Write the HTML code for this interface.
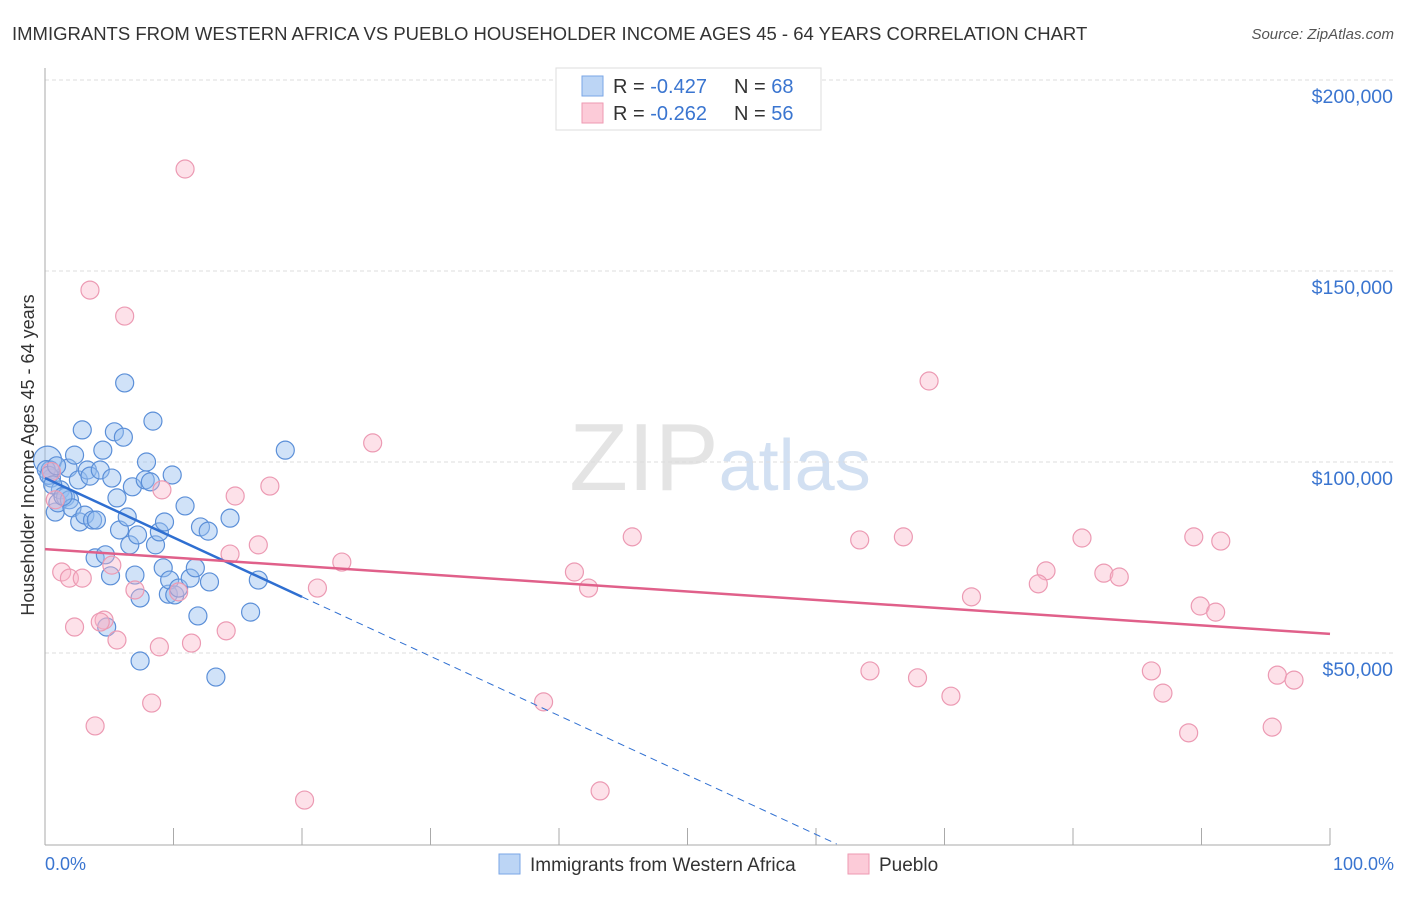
<!DOCTYPE html>
<html><head><meta charset="utf-8"><style>
body{margin:0;background:#fff;font-family:"Liberation Sans",sans-serif;}
svg text{font-family:"Liberation Sans",sans-serif;}
</style></head><body>
<svg id="chart" width="1406" height="892" xmlns="http://www.w3.org/2000/svg">
<text x="12" y="40" font-size="18.5" fill="#333">IMMIGRANTS FROM WESTERN AFRICA VS PUEBLO HOUSEHOLDER INCOME AGES 45 - 64 YEARS CORRELATION CHART</text>
<text x="1394" y="39" font-size="15" fill="#555" text-anchor="end" font-style="italic">Source: ZipAtlas.com</text>
<text x="720" y="490" font-size="96" fill="#e4e4e4" text-anchor="middle" font-family="Liberation Serif">ZIP<tspan fill="#d2e0f2" font-family="Liberation Sans" font-size="72">atlas</tspan></text>
<g id="grid"></g>
<g id="axes"></g>
<g id="points"></g>
<g id="lines"></g>
<text transform="translate(34,455) rotate(-90)" font-size="18" fill="#333" text-anchor="middle">Householder Income Ages 45 - 64 years</text>
<text x="45" y="870" font-size="18" fill="#3a75d0">0.0%</text>
<text x="1394" y="870" font-size="18" fill="#3a75d0" text-anchor="end">100.0%</text>
<g>
<rect x="556" y="68" width="265" height="62" fill="#fff" stroke="#ddd"/>
<rect x="582" y="76" width="21" height="20" fill="#bcd5f5" stroke="#7aa6e6"/>
<rect x="582" y="103" width="21" height="20" fill="#fccbd8" stroke="#ee9ab2"/>
<text x="613" y="93" font-size="20" fill="#333">R = <tspan fill="#3a75d0">-0.427</tspan></text>
<text x="734" y="93" font-size="20" fill="#333">N = <tspan fill="#3a75d0">68</tspan></text>
<text x="613" y="120" font-size="20" fill="#333">R = <tspan fill="#3a75d0">-0.262</tspan></text>
<text x="734" y="120" font-size="20" fill="#333">N = <tspan fill="#3a75d0">56</tspan></text>
</g>
<g>
<rect x="499" y="854" width="21" height="20" fill="#bcd5f5" stroke="#7aa6e6"/>
<text x="530" y="871" font-size="19" fill="#333">Immigrants from Western Africa</text>
<rect x="848" y="854" width="21" height="20" fill="#fccbd8" stroke="#ee9ab2"/>
<text x="879" y="871" font-size="19" fill="#333">Pueblo</text>
</g>
</svg>
<script>
const yTicks=[50000,100000,150000,200000];
const yTickLabels=["$50,000","$100,000","$150,000","$200,000"];
const blueX=[0.2,0.4,0.5,0.8,1.0,1.2,1.6,1.8,1.9,2.1,2.3,2.6,2.7,2.9,3.1,3.3,3.5,3.7,3.9,4.0,4.3,4.5,4.7,4.8,5.1,5.2,5.4,5.6,5.8,6.1,6.2,6.4,6.6,6.8,7.0,7.2,7.4,7.4,7.8,7.9,8.2,8.4,8.6,8.9,9.2,9.3,9.6,9.7,9.9,10.1,10.4,10.9,11.3,11.7,12.1,11.9,12.7,12.8,13.3,14.4,16.0,16.6,18.7,0.1,0.3,0.6,0.9,1.4];
const blueY=[100.5,97.9,95.8,86.9,89.3,92.7,90.8,98.4,90.1,88.0,101.8,95.3,84.3,108.4,86.1,97.9,96.3,84.8,74.9,84.8,97.9,103.1,75.7,56.8,70.2,95.8,107.9,90.6,82.2,106.5,120.7,85.6,78.3,93.5,70.4,80.9,64.4,47.9,95.3,100.0,94.8,110.7,78.3,81.7,72.3,84.3,65.4,69.1,96.6,65.2,67.0,88.5,69.6,72.3,83.0,59.7,81.9,68.6,43.7,85.3,60.7,69.1,103.1,98.0,96.5,94.0,99.0,91.0];
const pinkX=[10.9,3.5,6.2,68.8,25.5,17.5,14.8,9.1,16.6,14.4,23.1,45.7,63.4,66.8,80.7,89.4,91.5,41.2,42.3,21.2,77.9,82.4,83.6,77.3,72.1,89.9,91.1,1.3,1.9,2.9,5.2,4.6,4.3,2.3,5.6,14.1,8.9,11.4,7.0,10.4,64.2,67.9,70.5,86.1,87.0,95.9,97.2,89.0,95.5,8.3,38.8,3.9,43.2,20.2,0.8,0.5];
const pinkY=[176.7,145.0,138.2,121.2,105.0,93.7,91.1,92.7,78.3,75.9,73.8,80.4,79.6,80.4,80.1,80.4,79.3,71.2,67.0,67.0,71.5,70.9,69.9,68.1,64.7,62.3,60.7,71.2,69.6,69.6,73.0,58.6,58.1,56.8,53.4,55.8,51.6,52.6,66.5,66.0,45.3,43.5,38.7,45.3,39.5,44.2,42.9,29.1,30.6,36.9,37.2,30.9,13.9,11.5,90.1,97.5];
const blueTrend=[95.8,-1.555];
const pinkTrend=[77.2,-0.222];
const NS="http://www.w3.org/2000/svg";
const xS=p=>45+p*12.85;
const yS=v=>844-v*191/50000;
function mk(tag,attrs,parent){const e=document.createElementNS(NS,tag);for(const k in attrs)e.setAttribute(k,attrs[k]);parent.appendChild(e);return e;}
const grid=document.getElementById('grid'),axes=document.getElementById('axes'),pts=document.getElementById('points'),lines=document.getElementById('lines');
yTicks.forEach((t,i)=>{
 const l=mk('line',{x1:45,x2:1395,y1:yS(t),y2:yS(t),stroke:'#ddd','stroke-dasharray':'4,3'},grid);
 
 
 const tx=mk('text',{x:1393,y:yS(t)+23,'font-size':19.5,fill:'#3a75d0','text-anchor':'end'},grid);
 tx.textContent=yTickLabels[i];
 
 
});
const ya=mk('line',{x1:45,x2:45,y1:68,y2:845,stroke:'#aaa'},axes);


const xa=mk('line',{x1:45,x2:1330,y1:845,y2:845,stroke:'#aaa'},axes);


for(let i=0;i<=10;i++){const t=mk('line',{x1:xS(i*10),x2:xS(i*10),y1:828,y2:845,stroke:'#aaa'},axes);
 
 }
blueX.forEach((x,i)=>{const c=mk('circle',{cx:xS(x),cy:yS(blueY[i]*1000),r:(i===0?14:9),fill:'rgba(150,190,240,0.45)',stroke:'#5b8fd8','stroke-width':1.2},pts);
 
 });
pinkX.forEach((x,i)=>{const c=mk('circle',{cx:xS(x),cy:yS(pinkY[i]*1000),r:9,fill:'rgba(250,180,200,0.4)',stroke:'#ec9ab3','stroke-width':1.2},pts);
 
 });
const bAt=p=>blueTrend[0]+blueTrend[1]*p;
const bZero=-blueTrend[0]/blueTrend[1];
const bl=mk('line',{x1:xS(0),y1:yS(bAt(0)*1000),x2:xS(20),y2:yS(bAt(20)*1000),stroke:'#2f6fd1','stroke-width':2.5},lines);


const bd=mk('line',{x1:xS(20),y1:yS(bAt(20)*1000),x2:xS(bZero),y2:yS(0),stroke:'#2f6fd1','stroke-width':1,'stroke-dasharray':'7,5'},lines);


const pAt=p=>pinkTrend[0]+pinkTrend[1]*p;
const pl=mk('line',{x1:xS(0),y1:yS(pAt(0)*1000),x2:xS(100),y2:yS(pAt(100)*1000),stroke:'#e0608a','stroke-width':2.5},lines);


</script>
</body></html>
